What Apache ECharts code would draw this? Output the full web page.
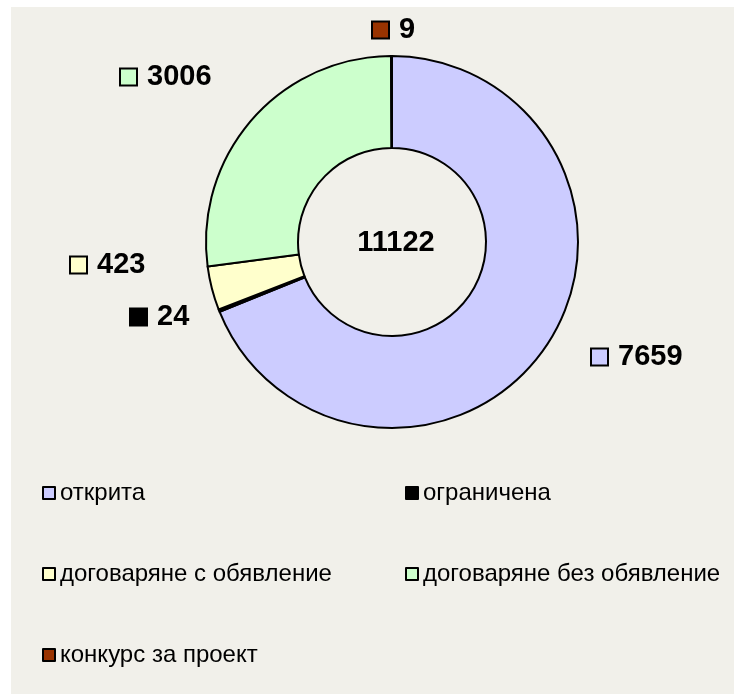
<!DOCTYPE html>
<html>
<head>
<meta charset="utf-8">
<script src="https://cdn.jsdelivr.net/npm/echarts@6/dist/echarts.min.js"></script>
<style>
  html, body { margin: 0; padding: 0; background: #ffffff; }
  #bg { position: absolute; left: 11px; top: 7px; width: 723px; height: 687px; background: #F1F0EA; }
  #main { position: absolute; left: 0; top: 0; width: 734px; height: 694px; }
</style>
</head>
<body>
<div id="bg"></div>
<div id="main"></div>
<script>
// данни
var categories = ['открита', 'ограничена', 'договаряне с обявление', 'договаряне без обявление', 'конкурс за проект'];
var values = [7659, 24, 423, 3006, 9];
var totalLabel = '11122';
var colors = ['#CCCCFF', '#000000', '#FFFFCC', '#CCFFCC', '#993300'];

// къде стоят етикетите (ляв ръб на квадратчето, среда по височина)
var labelPos = [[592, 357], [131, 317], [71, 265], [121, 77], [373, 30]];

var rich = { v: { fontSize: 29, fontWeight: 'bold', color: '#000', fontFamily: 'Liberation Sans, Arial', padding: [0, 0, 0, 11] } };
colors.forEach(function (c, i) {
    rich['m' + i] = { width: 15, height: 15, backgroundColor: c, borderColor: '#000', borderWidth: 2 };
});

var pieData = categories.map(function (name, i) {
    return { name: name, value: values[i], itemStyle: { color: colors[i] } };
});

var myChart = echarts.init(document.getElementById('main'));
var legendText = { fontSize: 24, fontFamily: 'Liberation Sans, Arial', color: '#000' };
var option = {
    animation: false,
    legend: [{
        orient: 'vertical',
        left: 37,
        top: 476,
        itemWidth: 12,
        itemHeight: 12,
        itemGap: 57,
        icon: 'rect',
        itemStyle: { borderColor: '#000', borderWidth: 2 },
        textStyle: legendText,
        data: [categories[0], categories[2], categories[4]]
    }, {
        orient: 'vertical',
        left: 400,
        top: 476,
        itemWidth: 12,
        itemHeight: 12,
        itemGap: 57,
        icon: 'rect',
        itemStyle: { borderColor: '#000', borderWidth: 2 },
        textStyle: legendText,
        data: [categories[1], categories[3]]
    }],
    graphic: [{
        type: 'text',
        x: 396,
        y: 243,
        style: {
            text: totalLabel,
            fill: '#000',
            font: 'bold 29px "Liberation Sans", Arial',
            textAlign: 'center',
            textVerticalAlign: 'middle'
        }
    }],
    series: [{
        type: 'pie',
        center: [392, 242],
        radius: [94, 186],
        startAngle: 90,
        clockwise: true,
        avoidLabelOverlap: false,
        itemStyle: { borderColor: '#000', borderWidth: 2 },
        emphasis: { disabled: true },
        label: {
            show: true,
            position: 'outside',
            formatter: function (p) { return '{m' + p.dataIndex + '|}{v|' + p.value + '}'; },
            rich: rich
        },
        labelLine: { show: false },
        labelLayout: function (p) {
            var pos = labelPos[p.dataIndex];
            return { x: pos[0], y: pos[1], align: 'left', verticalAlign: 'middle' };
        },
        data: pieData
    }]
};
myChart.setOption(option);
</script>
</body>
</html>
